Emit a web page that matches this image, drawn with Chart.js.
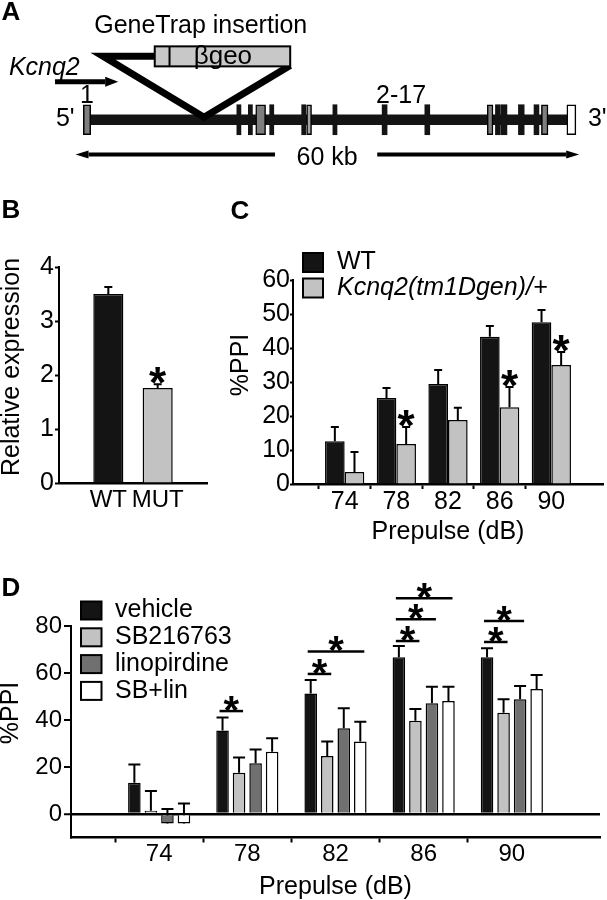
<!DOCTYPE html>
<html lang="en">
<head>
<meta charset="UTF-8" />
<title>Kcnq2 gene trap and PPI</title>
<script src="https://cdn.jsdelivr.net/npm/chart.js@4.4.1/dist/chart.umd.min.js"></script>
<style>
  body { margin: 0; background: #fff; overflow: hidden; }
  .fig { position: relative; width: 607px; height: 900px; }
  canvas { position: absolute; }
</style>
</head>
<body>
<div class="fig">
  <canvas id="chartA" width="607" height="200" style="left:0;top:0"></canvas>
  <canvas id="chartB" width="230" height="340" style="left:0;top:200px"></canvas>
  <canvas id="chartC" width="382" height="346" style="left:225px;top:200px"></canvas>
  <canvas id="chartD" width="607" height="341" style="left:0;top:560px"></canvas>
</div>
<script>
// ---- A: Kcnq2 gene model (kb from start of exon 1) ----
const exonStart = [0.0, 18.7, 20.1, 21.0, 22.7, 26.6, 27.2, 30.4, 36.4, 41.6, 49.2, 50.2, 50.9, 53.0, 54.9, 55.8, 58.9];
const exonEnd   = [0.9, 19.2, 20.6, 22.2, 23.2, 27.1, 27.8, 30.9, 37.0, 42.2, 49.9, 50.8, 51.6, 53.7, 55.5, 56.6, 60.0];
const exonKind  = ['g', 'b', 'b', 'g', 'b', 'b', 'l', 'b', 'b', 'b', 'g', 'b', 'b', 'b', 'b', 'g', 'u'];
const geneSpan = [0.5, 58.9];
const insertionKb = 14.8;

// ---- B: relative expression ----
const exprLabels = ['WT', 'MUT'];
const exprMean = [3.5, 1.76];
const exprSem = [0.13, 0.07];
const exprSig = [false, true];

// ---- C: %PPI, WT vs Kcnq2(tm1Dgen)/+ ----
const prepulse = ['74', '78', '82', '86', '90'];
const wtPPI = [12.6, 25.3, 29.4, 43.3, 47.6];
const wtSem = [4.2, 2.9, 4.1, 3.2, 3.6];
const hetPPI = [3.5, 11.8, 18.8, 22.6, 35.0];
const hetSem = [5.9, 5.0, 3.6, 5.9, 3.8];
const hetSig = [false, true, false, true, true];

// ---- D: %PPI with drugs ----
const drugs = ['vehicle', 'SB216763', 'linopirdine', 'SB+lin'];
const vehPPI = [13.3, 35.5, 51.3, 66.7, 66.7];
const vehSem = [7.8, 5.6, 5.7, 4.8, 3.8];
const sbPPI = [1.4, 17.6, 24.7, 39.7, 43.1];
const sbSem = [8.4, 6.4, 6.1, 5.0, 5.7];
const linPPI = [-4.0, 21.6, 36.5, 47.1, 48.8];
const linSem = [6.1, 5.9, 8.5, 7.1, 5.7];
const sbLinPPI = [-4.0, 26.5, 30.8, 48.1, 53.2];
const sbLinSem = [8.5, 5.7, 8.5, 6.1, 5.9];
// comparisons vs vehicle: [prepulse, dataset index, bracket level (%PPI)]
const dCompare = [['78', 1, 43.8], ['82', 1, 59.6], ['82', 3, 69.1], ['86', 1, 73.6],
                  ['86', 2, 82.9], ['86', 3, 91.8], ['90', 1, 73.2], ['90', 2, 82.1]];

const FONT = "'Liberation Sans', Arial, Helvetica, sans-serif";
Chart.defaults.font.family = FONT;
Chart.defaults.color = '#000';

const BLACK = '#141414', LIGHT = '#c2c2c2', DARK = '#707070', WHITE = '#ffffff';
const exonColor = { g: '#7e7e7e', l: '#a4a4a4', b: BLACK, u: WHITE };

// empty slot on each side of the categories
const pad = a => [null, ...a, null];
const padLabels = a => ['', ...a, ''];

function drawStar(ctx, x, yc, size) {
  ctx.font = 'bold ' + size + 'px ' + FONT;
  ctx.textAlign = 'center';
  ctx.textBaseline = 'alphabetic';
  ctx.fillStyle = '#000';
  ctx.fillText('*', x, yc + size * 0.57);
}

// one-sided SEM bars + stars
const errorBars = {
  id: 'errorBars',
  beforeDatasetsDraw(chart, args, opts) {
    const { ctx } = chart, y = chart.scales.y;
    ctx.save();
    ctx.strokeStyle = '#000';
    ctx.lineWidth = 2;
    chart.data.datasets.forEach((ds, di) => {
      if (!ds.errors) return;
      chart.getDatasetMeta(di).data.forEach((bar, i) => {
        const v = ds.data[i], e = ds.errors[i];
        if (v == null || e == null) return;
        const y0 = y.getPixelForValue(v), y1 = y.getPixelForValue(v + e);
        ctx.beginPath();
        ctx.moveTo(bar.x, y0); ctx.lineTo(bar.x, y1);
        ctx.moveTo(bar.x - opts.cap / 2, y1); ctx.lineTo(bar.x + opts.cap / 2, y1);
        ctx.stroke();
      });
    });
    ctx.restore();
  },
  afterDatasetsDraw(chart, args, opts) {
    const { ctx } = chart, y = chart.scales.y;
    chart.data.datasets.forEach((ds, di) => {
      if (!ds.sig) return;
      chart.getDatasetMeta(di).data.forEach((bar, i) => {
        if (!ds.sig[i]) return;
        drawStar(ctx, bar.x, y.getPixelForValue(ds.data[i] + ds.errors[i]) - 11, opts.star);
      });
    });
  }
};

// significance brackets for panel D
const brackets = {
  id: 'brackets',
  afterDatasetsDraw(chart, args, opts) {
    const { ctx } = chart, y = chart.scales.y;
    ctx.save();
    ctx.strokeStyle = '#000';
    ctx.lineWidth = 2.5;
    opts.items.forEach(([cat, target, level]) => {
      const i = chart.data.labels.indexOf(cat);
      const a = chart.getDatasetMeta(0).data[i], b = chart.getDatasetMeta(target).data[i];
      const x0 = a.x - 3, x1 = b.x + 4, yy = y.getPixelForValue(level);
      ctx.beginPath(); ctx.moveTo(x0, yy); ctx.lineTo(x1, yy); ctx.stroke();
      drawStar(ctx, (x0 + x1) / 2, yy - 10, 40);
    });
    ctx.restore();
  }
};

// square-swatch legend
const boxLegend = {
  id: 'boxLegend',
  afterDraw(chart, args, o) {
    const { ctx } = chart;
    ctx.save();
    chart.data.datasets.forEach((ds, i) => {
      const cy = o.y + i * o.pitch;
      ctx.fillStyle = ds.backgroundColor;
      ctx.fillRect(o.x, cy - o.h / 2, o.w, o.h);
      ctx.lineWidth = 2;
      ctx.strokeStyle = '#000';
      ctx.strokeRect(o.x, cy - o.h / 2, o.w, o.h);
      ctx.fillStyle = '#000';
      ctx.font = (o.italic && o.italic[i] ? 'italic ' : '') + o.size + 'px ' + FONT;
      ctx.textAlign = 'left';
      ctx.textBaseline = 'middle';
      ctx.fillText(ds.label, o.textX, cy);
    });
    ctx.restore();
  }
};

// panel letters and rotated y titles
const panelText = {
  id: 'panelText',
  afterDraw(chart, args, opts) {
    const { ctx } = chart;
    opts.items.forEach(t => {
      ctx.save();
      ctx.font = t.font;
      ctx.fillStyle = '#000';
      ctx.textAlign = 'center';
      ctx.textBaseline = t.rotate ? 'alphabetic' : 'middle';
      ctx.translate(t.x, t.y);
      if (t.rotate) ctx.rotate(-Math.PI / 2);
      ctx.fillText(t.text, 0, 0);
      ctx.restore();
    });
  }
};

// gene-trap cassette, labels and scale bar for panel A
const geneDecor = {
  id: 'geneDecor',
  afterDatasetsDraw(chart) {
    const { ctx, scales: { x, y } } = chart;
    const X = v => x.getPixelForValue(v), Y = v => y.getPixelForValue(v);
    const arrow = (x0, x1, yy, w, hl, hh) => {
      const dir = Math.sign(x1 - x0);
      ctx.lineWidth = w;
      ctx.beginPath(); ctx.moveTo(x0, yy); ctx.lineTo(x1 - dir * hl, yy); ctx.stroke();
      ctx.beginPath();
      ctx.moveTo(x1, yy); ctx.lineTo(x1 - dir * hl, yy - hh); ctx.lineTo(x1 - dir * hl, yy + hh);
      ctx.closePath(); ctx.fill();
    };
    const text = (s, xx, yy, font) => {
      ctx.font = font; ctx.textAlign = 'center'; ctx.textBaseline = 'middle';
      ctx.fillText(s, xx, yy);
    };
    ctx.save();
    ctx.fillStyle = '#000';
    ctx.strokeStyle = '#000';

    ctx.lineWidth = 7;
    ctx.lineJoin = 'miter';
    ctx.miterLimit = 4;
    ctx.beginPath();
    ctx.moveTo(X(8.7), Y(52));
    ctx.lineTo(X(2.4), Y(52));
    ctx.lineTo(X(insertionKb - 0.1), Y(119));
    ctx.lineTo(X(25.2), Y(62));
    ctx.stroke();

    ctx.fillStyle = '#c8c8c8';
    ctx.fillRect(X(8.7), Y(41), X(25.2) - X(8.7), Y(63) - Y(41));
    ctx.lineWidth = 2;
    ctx.strokeRect(X(8.7), Y(41), X(25.2) - X(8.7), Y(63) - Y(41));
    ctx.beginPath(); ctx.moveTo(X(10.5), Y(41)); ctx.lineTo(X(10.5), Y(63)); ctx.stroke();
    ctx.fillStyle = '#000';
    text('\u03b2geo', X(17.0), Y(52), '26px ' + FONT);

    text('GeneTrap insertion', X(14.3), Y(19), '25px ' + FONT);
    text('Kcnq2', X(-4.75), Y(65), 'italic 25px ' + FONT);
    arrow(X(-3.45), X(4.25), Y(80), 5, 13, 5);
    text('1', X(0.45), Y(96), '25px ' + FONT);
    text('2-17', X(38.7), Y(96), '25px ' + FONT);
    text("5'", X(-2.2), Y(121), '25px ' + FONT);
    text("3'", X(62.6), Y(121), '25px ' + FONT);

    arrow(X(23.35), X(-0.95), Y(160), 4, 13, 4);
    arrow(X(35.8), X(60.4), Y(160), 4, 13, 4);
    text('60 kb', X(29.7), Y(164), '25px ' + FONT);
    text('A', 11, 13, 'bold 26px ' + FONT);
    ctx.restore();
  }
};

function yAxis(min, max, step, width, tickLen, padding, size, extra) {
  return Object.assign({
    type: 'linear', min, max,
    ticks: { stepSize: step, padding, includeBounds: false, font: { size, lineHeight: 1 } },
    grid: { drawOnChartArea: false, tickLength: tickLen, tickWidth: 2, tickColor: '#000' },
    border: { color: '#000', width: 2 },
    afterFit(s) { s.width = width; }
  }, extra || {});
}

function xAxis(height, tickLen, padding, size, title) {
  return {
    type: 'category', offset: false,
    ticks: { padding, autoSkip: false, maxRotation: 0, font: { size, lineHeight: 1 } },
    grid: {
      drawOnChartArea: false, drawTicks: tickLen > 0, tickLength: tickLen, tickWidth: 2,
      tickColor: c => (c.tick && c.tick.label ? '#000' : 'rgba(0,0,0,0)')
    },
    border: { color: '#000', width: 2.5 },
    title: { display: !!title, text: title || '', padding: 0, font: { size: 25, lineHeight: 1.1 } },
    afterFit(s) { s.height = height; }
  };
}

const base = { responsive: false, animation: false, events: [] };

// ---- A ----
new Chart(document.getElementById('chartA'), {
  type: 'bar',
  data: {
    datasets: [
      {
        label: 'exons',
        data: exonStart.map((s, i) => ({ x: [s, exonEnd[i]], y: 121.7 })),
        backgroundColor: exonKind.map(k => exonColor[k]),
        borderColor: '#000',
        borderWidth: exonKind.map(k => (k === 'b' ? 0 : 1.5)),
        borderSkipped: false,
        barThickness: 30,
        grouped: false
      },
      {
        label: 'Kcnq2',
        data: [{ x: geneSpan, y: 121.7 }],
        backgroundColor: BLACK,
        borderWidth: 0,
        barThickness: 10,
        grouped: false
      }
    ]
  },
  options: Object.assign({}, base, {
    indexAxis: 'y',
    layout: { padding: 0 },
    plugins: { legend: { display: false }, tooltip: { enabled: false } },
    scales: {
      x: { type: 'linear', min: -10.15, max: 63.79, display: false },
      y: { type: 'linear', min: 0, max: 200, reverse: true, display: false }
    }
  }),
  plugins: [geneDecor]
});

// ---- B ----
new Chart(document.getElementById('chartB'), {
  type: 'bar',
  data: {
    labels: padLabels(exprLabels),
    datasets: [{
      label: 'Relative expression',
      data: pad(exprMean),
      errors: pad(exprSem),
      sig: pad(exprSig),
      backgroundColor: pad([BLACK, LIGHT]),
      borderColor: '#000',
      borderWidth: 1.5,
      barPercentage: 1,
      categoryPercentage: 0.61
    }]
  },
  options: Object.assign({}, base, {
    layout: { padding: { top: 67, right: 23, left: 0, bottom: 0 } },
    plugins: {
      legend: { display: false }, tooltip: { enabled: false },
      errorBars: { cap: 8, star: 44 },
      panelText: { items: [
        { text: 'B', x: 11, y: 11, font: 'bold 26px ' + FONT },
        { text: 'Relative expression', x: 19, y: 167, font: '25px ' + FONT, rotate: true }
      ] }
    },
    scales: {
      x: xAxis(57, 0, 5, 24),
      y: yAxis(0, 4, 1, 59, 4, 1, 25)
    }
  }),
  plugins: [errorBars, panelText]
});

// ---- C ----
new Chart(document.getElementById('chartC'), {
  type: 'bar',
  data: {
    labels: padLabels(prepulse),
    datasets: [
      { label: 'WT', data: pad(wtPPI), errors: pad(wtSem), backgroundColor: BLACK },
      { label: 'Kcnq2(tm1Dgen)/+', data: pad(hetPPI), errors: pad(hetSem), sig: pad(hetSig), backgroundColor: LIGHT }
    ].map(d => Object.assign(d, { borderColor: '#000', borderWidth: 1.5, barPercentage: 1, categoryPercentage: 0.76 }))
  },
  options: Object.assign({}, base, {
    layout: { padding: { top: 80, right: 4, left: 0, bottom: 0 } },
    plugins: {
      legend: { display: false }, tooltip: { enabled: false },
      errorBars: { cap: 8, star: 44 },
      boxLegend: { x: 78, y: 62.5, pitch: 25.5, w: 20, h: 19, textX: 112, size: 25, italic: [false, true] },
      panelText: { items: [
        { text: 'C', x: 15, y: 12, font: 'bold 26px ' + FONT },
        { text: '%PPI', x: 23, y: 165, font: '25px ' + FONT, rotate: true }
      ] }
    },
    scales: {
      x: xAxis(62, 5, 0.5, 25, 'Prepulse (dB)'),
      y: yAxis(0, 60, 10, 68, 3, 0, 25)
    }
  }),
  plugins: [errorBars, boxLegend, panelText]
});

// ---- D ----
const dSeries = [[vehPPI, vehSem, BLACK], [sbPPI, sbSem, LIGHT], [linPPI, linSem, DARK], [sbLinPPI, sbLinSem, WHITE]];
new Chart(document.getElementById('chartD'), {
  type: 'bar',
  data: {
    labels: padLabels(prepulse),
    datasets: dSeries.map(([m, e, c], i) => ({
      label: drugs[i], data: pad(m), errors: pad(e), backgroundColor: c,
      borderColor: '#000', borderWidth: 1.5, barPercentage: 0.76, categoryPercentage: 0.75
    }))
  },
  options: Object.assign({}, base, {
    layout: { padding: { top: 66, right: 7, left: 0, bottom: 0 } },
    plugins: {
      legend: { display: false }, tooltip: { enabled: false },
      errorBars: { cap: 12, star: 40 },
      brackets: { items: dCompare },
      boxLegend: { x: 81, y: 50.5, pitch: 26.8, w: 20.5, h: 18, textX: 115, size: 25 },
      panelText: { items: [
        { text: 'D', x: 11, y: 29, font: 'bold 26px ' + FONT },
        { text: '%PPI', x: 18, y: 153, font: '25px ' + FONT, rotate: true }
      ] }
    },
    scales: {
      x: xAxis(63.5, 5, 0, 24, 'Prepulse (dB)'),
      y: yAxis(-10, 80, 20, 71, 7, 2, 24, {
        grid: {
          drawOnChartArea: true, tickLength: 7, tickWidth: 2, tickColor: '#000',
          color: c => (c.tick && c.tick.value === 0 ? '#000' : 'rgba(0,0,0,0)'),
          lineWidth: c => (c.tick && c.tick.value === 0 ? 2.5 : 0)
        }
      })
    }
  }),
  plugins: [errorBars, brackets, boxLegend, panelText]
});
</script>
</body>
</html>
